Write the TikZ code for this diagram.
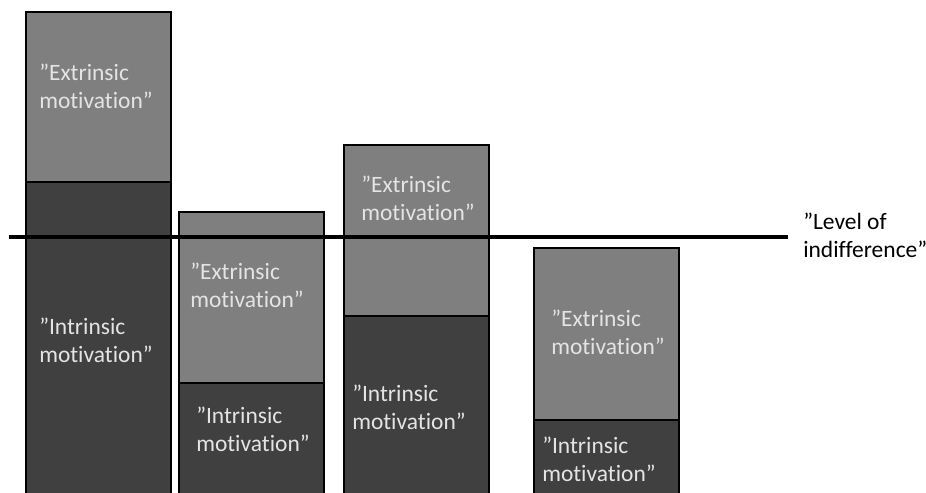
\documentclass[tikz,border=0pt]{standalone}
\usepackage{fontspec}
\setmainfont{Carlito}[Ligatures={NoCommon,NoRequired,NoContextual}]
\usepackage{tikz}
\newcommand{\bw}{145}
\definecolor{extcol}{HTML}{7F7F7F}
\definecolor{intcol}{HTML}{404040}
\definecolor{txtcol}{HTML}{E4E4E4}
\tikzset{
  extbar/.style={fill=extcol,draw=black,line width=1pt},
  intbar/.style={fill=intcol,draw=black,line width=1pt},
  barlbl/.style={anchor=north west,inner sep=0pt,align=left,text=txtcol,
    font=\fontsize{17.6}{21}\selectfont},
}

\begin{document}
\begin{tikzpicture}[x=0.75pt,y=-0.75pt]
\useasboundingbox (0,0) rectangle (926,493);
% bars: left / top / split
\foreach \l/\t/\s in {26/12/182,179/212/383,344/145/316,534/248/420}{
  \filldraw[intbar] (\l,\s) rectangle (\l+\bw,497);
  \filldraw[extbar] (\l,\t) rectangle (\l+\bw,\s);
}
\coordinate (lvlL) at (9,237);
\coordinate (lvlR) at (788,237);
\draw[line width=3pt] (lvlL) -- (lvlR);
\node[barlbl] (ext1) at (39,64) {”Extrinsic\\motivation”};
\node[barlbl] (int1) at (39,318) {”Intrinsic\\motivation”};
\node[barlbl] (ext2) at (190,263) {”Extrinsic\\motivation”};
\node[barlbl] (int2) at (196,407) {”Intrinsic\\motivation”};
\node[barlbl] (ext3) at (361,176) {”Extrinsic\\motivation”};
\node[barlbl] (int3) at (352,385) {”Intrinsic\\motivation”};
\node[barlbl] (ext4) at (551,310) {”Extrinsic\\motivation”};
\node[barlbl] (int4) at (542,437) {”Intrinsic\\motivation”};
\node[barlbl,text=black] (lvl) at (803,213) {”Level of\\indifference”};
\end{tikzpicture}
\end{document}
